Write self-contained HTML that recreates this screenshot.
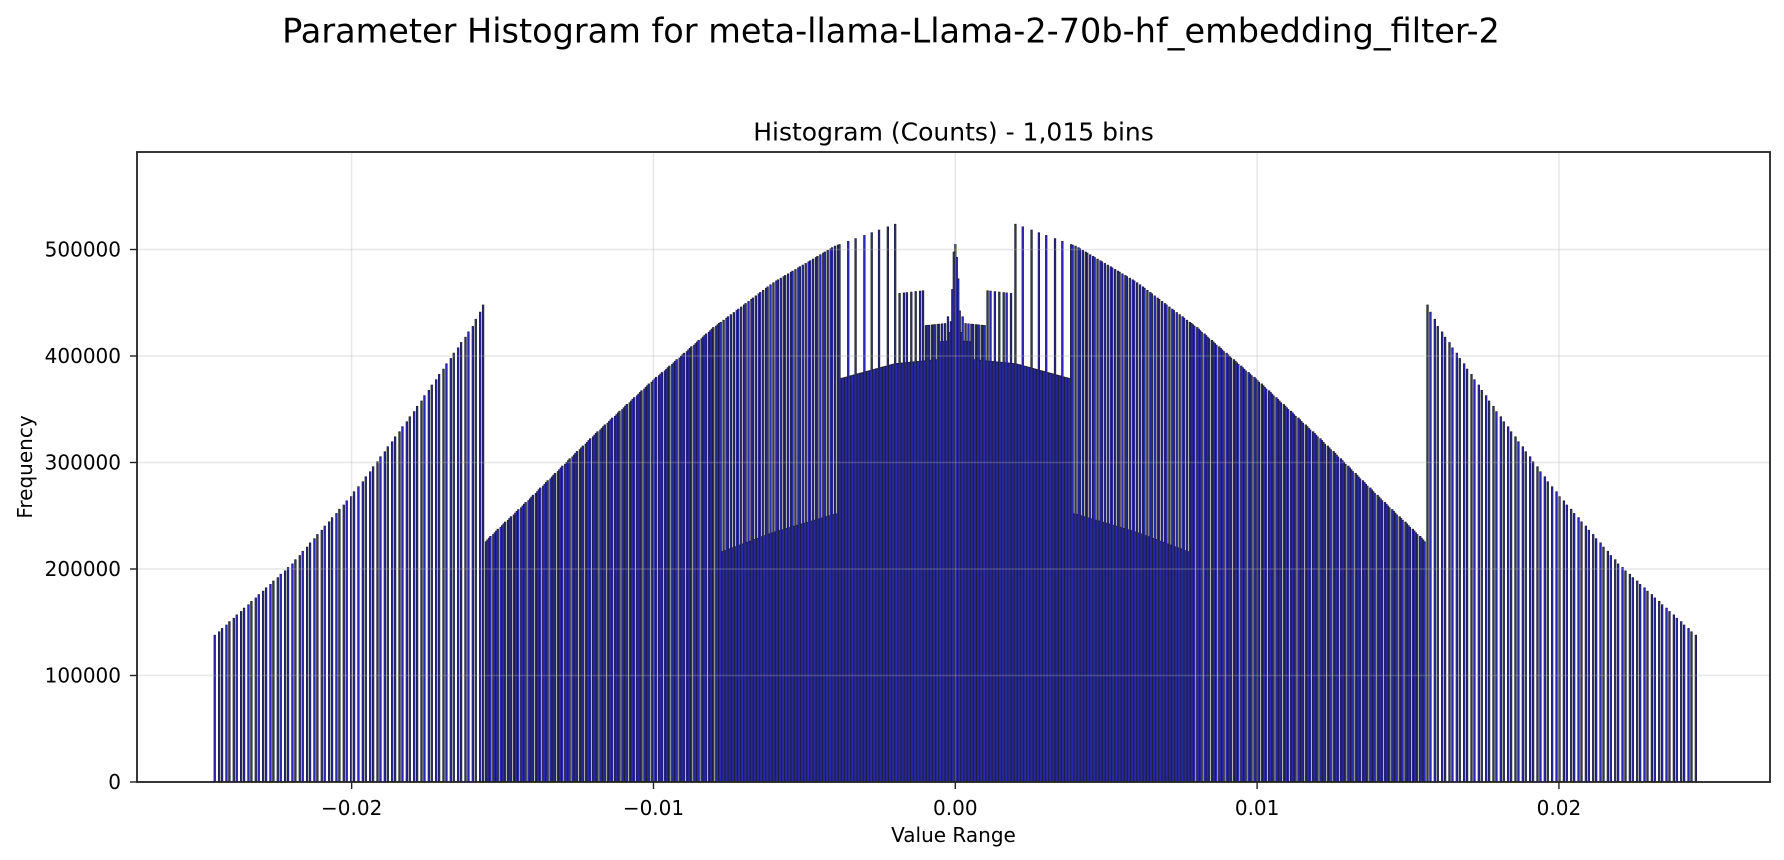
<!DOCTYPE html>
<html><head><meta charset="utf-8"><style>
html,body{margin:0;padding:0;background:#fff;}
svg{display:block;font-family:"DejaVu Sans","Liberation Sans",sans-serif;}
</style></head><body>
<svg id="chart" width="1784" height="860" viewBox="0 0 1784 860">
<text x="891" y="31" font-size="33.5" text-anchor="middle" dominant-baseline="central" fill="#000">Parameter Histogram for meta-llama-Llama-2-70b-hf_embedding_filter-2</text>
<text x="953.5" y="132" font-size="25" text-anchor="middle" dominant-baseline="central" fill="#000">Histogram (Counts) - 1,015 bins</text>
<text x="953.5" y="835" font-size="20" text-anchor="middle" dominant-baseline="central" fill="#000">Value Range</text>
<text x="25" y="467" font-size="20" text-anchor="middle" dominant-baseline="central" transform="rotate(-90 25 467)" fill="#000">Frequency</text>
<g id="bars"></g>
<g id="grid"></g>
<g id="ticks"></g>
<rect x="137" y="152" width="1633" height="630" fill="none" stroke="#222" stroke-width="1.8"/>
</svg>
<script>
// ---- data ----
const binCountTotal = 1015;
const valueMin = -0.0246582;
const valueMax = 0.0246582;
// density envelope: |value| knots and counts per 1e-5 of value width (thousands)
const densityX = [0, 0.002, 0.004, 0.006, 0.008, 0.010, 0.012, 0.014, 0.016, 0.018, 0.020, 0.022, 0.025];
const densityK = [87.0, 85.8, 82.4, 76.9, 69.9, 61.8, 53.2, 44.0, 35.0, 28.3, 22.0, 16.7, 10.3];
// extra counts (thousands) for the bins around zero, centered on the zero bin
const centerBoost = [10, 40, 75, 82, 70, 50, 20];
const yTicks = [0, 100000, 200000, 300000, 400000, 500000];
const yTickLabels = ["0", "100000", "200000", "300000", "400000", "500000"];
const xTicks = [-0.02, -0.01, 0, 0.01, 0.02];
const xTickLabels = ["\u22120.02", "\u22120.01", "0.00", "0.01", "0.02"];

// ---- axes ----
const PL = 137, PR = 1770, PT = 152, PB = 782;
const X0 = 955.3, XS = 30182; // px per unit value
const YS = 106.5 / 100000;
function xPx(v) { return X0 + v * XS; }
function yPx(c) { return PB - c * YS; }

function dens(v) {
  const a = Math.abs(v);
  for (let i = 0; i < densityX.length - 1; i++) {
    if (a <= densityX[i + 1]) {
      const t = (a - densityX[i]) / (densityX[i + 1] - densityX[i]);
      return (densityK[i] + t * (densityK[i + 1] - densityK[i])) * 1000;
    }
  }
  return densityK[densityK.length - 1] * 1000;
}
function countLevels(a, b) {
  let total = 0;
  const cut = Math.pow(2, -12);
  for (let e = -6; e >= -12; e--) {
    const lo = Math.pow(2, e), hi = Math.pow(2, e + 1), step = Math.pow(2, e - 7);
    let s = Math.max(a, lo), t = Math.min(b, hi);
    if (s < t) {
      for (let k = Math.ceil(s / step - 1e-9); k * step < t - 1e-12; k++) {
        total += dens(k * step) * step / 1e-5;
      }
    }
    s = Math.max(-b, lo); t = Math.min(-a, hi);
    if (s <= t) {
      for (let k = Math.ceil(s / step - 1e-9); k * step <= t + 1e-12 && k * step < hi - 1e-12; k++) {
        const v = -k * step;
        if (v >= a - 1e-12 && v < b - 1e-12) total += dens(v) * step / 1e-5;
      }
    }
  }
  const s = Math.max(a, -cut), t = Math.min(b, cut);
  if (s < t) total += dens((s + t) / 2) * (t - s) / 1e-5;
  return total;
}

const svgNS = "http://www.w3.org/2000/svg";
const barsG = document.getElementById("bars");
const w = (valueMax - valueMin) / binCountTotal;
const mid = Math.floor(binCountTotal / 2);
const half = Math.floor(centerBoost.length / 2);
for (let i = 0; i < binCountTotal; i++) {
  const a = valueMin + i * w, b = a + w;
  let c = countLevels(a, i === binCountTotal - 1 ? b + 1e-9 : b);
  const off = i - mid + half;
  if (off >= 0 && off < centerBoost.length) c += centerBoost[off] * 1000;
  if (c <= 0) continue;
  const r = document.createElementNS(svgNS, "rect");
  r.setAttribute("x", xPx(a).toFixed(2));
  r.setAttribute("width", (w * XS).toFixed(2));
  r.setAttribute("y", yPx(c).toFixed(2));
  r.setAttribute("height", (PB - yPx(c)).toFixed(2));
  r.setAttribute("fill", "#3232f5");
  r.setAttribute("stroke", "#1c1c30");
  r.setAttribute("stroke-width", "0.8");
  
  
  barsG.appendChild(r);
}

const gridG = document.getElementById("grid");
const ticksG = document.getElementById("ticks");
function mk(tag, attrs) { const el = document.createElementNS(svgNS, tag); for (const k in attrs) el.setAttribute(k, attrs[k]); return el; }
yTicks.forEach((t, i) => {
  const y = yPx(t);
  const gl = mk("line", { x1: PL, x2: PR, y1: y, y2: y, stroke: "rgba(176,176,176,0.3)", "stroke-width": 1.5 });
  
  
  gridG.appendChild(gl);
  const tk = mk("line", { x1: PL - 7, x2: PL, y1: y, y2: y, stroke: "#222", "stroke-width": 1.4 });
  
  
  ticksG.appendChild(tk);
  const tx = mk("text", { x: PL - 16, y: y, "font-size": 20, "text-anchor": "end", "dominant-baseline": "central", fill: "#000" });
  tx.textContent = yTickLabels[i];
  
  
  ticksG.appendChild(tx);
});
xTicks.forEach((t, i) => {
  const x = xPx(t);
  const gl = mk("line", { x1: x, x2: x, y1: PT, y2: PB, stroke: "rgba(176,176,176,0.3)", "stroke-width": 1.5 });
  
  
  gridG.appendChild(gl);
  const tk = mk("line", { x1: x, x2: x, y1: PB, y2: PB + 7, stroke: "#222", "stroke-width": 1.4 });
  
  
  ticksG.appendChild(tk);
  const tx = mk("text", { x: x, y: 808, "font-size": 20, "text-anchor": "middle", "dominant-baseline": "central", fill: "#000" });
  tx.textContent = xTickLabels[i];
  
  
  ticksG.appendChild(tx);
});
</script>
</body></html>
